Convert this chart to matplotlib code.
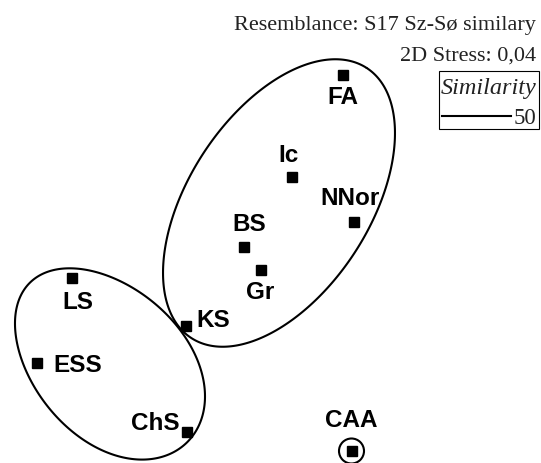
import numpy as np
import matplotlib
matplotlib.use("Agg")
import matplotlib.pyplot as plt
from matplotlib.patches import Circle, Rectangle, Polygon
from matplotlib.lines import Line2D

# MDS configuration (plot units, y grows downward)
sites = ["FA", "Ic", "NNor", "BS", "Gr", "KS", "LS", "ESS", "ChS", "CAA"]
x_pos = [342.5, 291.5, 353.5, 243.5, 261, 186, 71.5, 36.5, 187, 351.5]
y_pos = [75.5, 178, 222.5, 248, 270.5, 326.5, 278.5, 364, 433, 452]
label_x = [342.5, 288, 350.5, 249, 260.5, 213.5, 78, 77.5, 155, 351.5]
label_y = [98, 156, 199, 224.5, 292.5, 321, 303, 366, 424, 421]

title_lines = ["Resemblance: S17 Sz-Sø similary", "2D Stress: 0,04"]
legend_title = "Similarity"
legend_level = "50"

fig = plt.figure(figsize=(5.41, 4.64), dpi=100)
ax = fig.add_axes([0, 0, 1, 1])
ax.set_xlim(0, 541)
ax.set_ylim(464, 0)
ax.axis("off")


def egg(cx, cy, a, b, k, ang):
    t = np.linspace(0, 2 * np.pi, 400)
    u = a * np.cos(t)
    v = b * np.sin(t) * (1 + k * np.cos(t))
    r = np.deg2rad(ang)
    d = np.array([np.cos(r), -np.sin(r)])
    n = np.array([np.sin(r), np.cos(r)])
    x = cx + u * d[0] + v * n[0]
    y = cy + u * d[1] + v * n[1]
    return np.column_stack([x, y])


# similarity contours (50 %)
ax.add_patch(Polygon(egg(279, 204, 161, 90.5, 0.0, 57), closed=True,
                     fill=False, lw=1.5, ec="black"))
ax.add_patch(Polygon(egg(108.5, 363.5, 112, 75, 0.06, -45.5), closed=True,
                     fill=False, lw=1.5, ec="black"))
ax.add_patch(Circle((x_pos[-1], y_pos[-1]), 12.5, fill=False, lw=1.5, ec="black"))

ax.plot(x_pos, y_pos, ls="none", marker="s", ms=6.5, color="black")
for s, lx, ly in zip(sites, label_x, label_y):
    ax.text(lx, ly, s, ha="center", va="center", fontsize=17.5,
            fontweight="bold", family="Liberation Sans")

ax.text(536, 30, title_lines[0], ha="right", va="baseline", fontsize=16,
        family="Liberation Serif", color="#222222")
ax.text(536, 61, title_lines[1], ha="right", va="baseline", fontsize=16,
        family="Liberation Serif", color="#222222")

ax.add_patch(Rectangle((438.5, 71.5), 100, 58, fill=False, lw=0.8, ec="black"))
ax.text(536.5, 94, legend_title, ha="right", va="baseline", fontsize=17.5,
        family="Liberation Serif", style="italic", color="#222222")
ax.add_line(Line2D([442, 511], [117, 117], lw=1.5, color="black"))
ax.text(536.5, 124, legend_level, ha="right", va="baseline", fontsize=16.5,
        family="Liberation Serif", color="#222222")

fig.savefig("out.png", dpi=100)
